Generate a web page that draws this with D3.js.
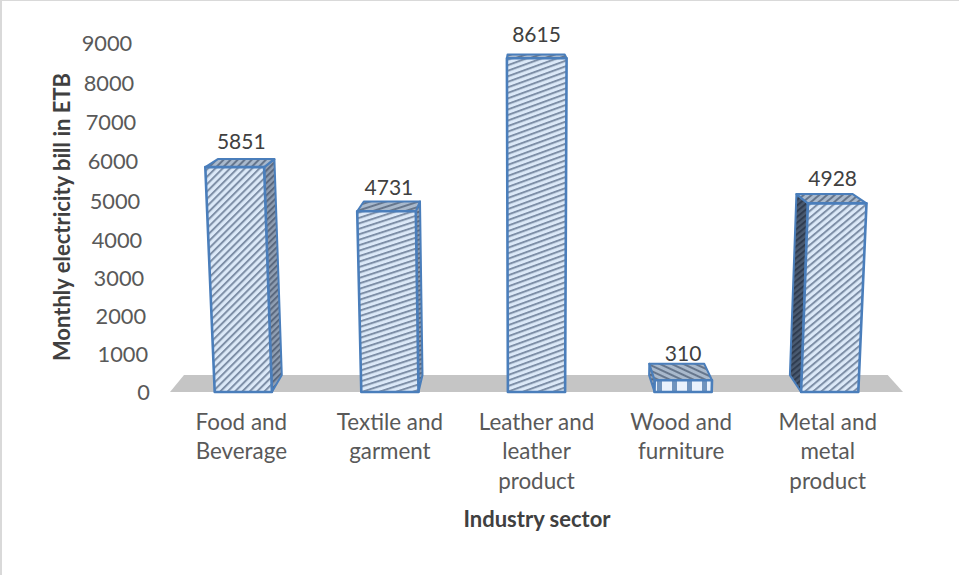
<!DOCTYPE html>
<html>
<head>
<meta charset="utf-8">
<style>
  html, body { margin: 0; padding: 0; background: #fff; }
  svg { display: block; font-family: Lato, "Open Sans", sans-serif; }
</style>
<script src="https://cdn.jsdelivr.net/npm/d3@7/dist/d3.min.js"></script>
</head>
<body>
<svg id="chart" width="959" height="575"></svg>
<script>
// Monthly electricity bill per industry sector
const categories = ["Food and Beverage", "Textile and garment", "Leather and leather product", "Wood and furniture", "Metal and metal product"];
const categoryLines = [["Food and", "Beverage"], ["Textile and", "garment"], ["Leather and", "leather", "product"], ["Wood and", "furniture"], ["Metal and", "metal", "product"]];
const bills = [5851, 4731, 8615, 310, 4928];
const tickValues = [0, 1000, 2000, 3000, 4000, 5000, 6000, 7000, 8000, 9000];

// Hatch direction per bar, and small nudges for the value and category labels
const hatchAngles = [-45, -18, -20, 0, -40];
const labelLift = [17, 14, 20, 10, 15];
const labelShift = [-2, -1, 0, 0, 3];
const categoryShift = [-2, 0, 0, -2, -2];

const W = 959, H = 575;
const svg = d3.select("#chart");

// The bar chart is drawn in perspective: the value scale stretches slightly with
// height, columns fan outward as they rise, and depth runs toward a vanishing point.
const x = d3.scaleBand().domain(categories).range([170, 903]).padding(0);
const y = d3.scaleLinear().domain([0, 4000, 9000]).range([392, 240, 43]);
const barShare = 0.39;
const vanish = { x: 520, y: -31 }, depth = 0.04;
const fanCentre = 530, fanDistance = 7500;

const fan = (x0, v) => fanCentre + (x0 - fanCentre) * (1 + (y(0) - y(v)) / fanDistance);
const toBack = p => [p[0] + depth * (vanish.x - p[0]), p[1] + depth * (vanish.y - p[1])];
const poly = pts => pts.map(p => p.map(n => n.toFixed(1)).join(",")).join(" ");

const frontFill = "#dce9f8", frontInk = "#7d8ea6";
const defs = svg.append("defs");

function hatch(id, angle, bg, ink, gap, thick) {
  const p = defs.append("pattern")
    .attr("id", id).attr("patternUnits", "userSpaceOnUse")
    .attr("width", gap).attr("height", gap)
    .attr("patternTransform", `rotate(${angle})`);
  p.append("rect").attr("width", gap).attr("height", gap).attr("fill", bg);
  p.append("rect").attr("width", gap).attr("height", thick).attr("fill", ink);
}

bills.forEach((_, i) => {
  if (i !== 3) hatch(`front${i}`, hatchAngles[i], frontFill, frontInk, 5.2, 2);
  hatch(`top${i}`, i === 3 ? 25 : hatchAngles[i], "#a9b9cc", "#66768c", 5, 2);
  hatch(`side${i}`, hatchAngles[i], i === 4 ? "#4a5a70" : "#8f9eb2", i === 4 ? "#2f3c50" : "#5a687e", 4.4, 2);
});

// The wood bar is so short that its hatch reads as a row of dark ticks
const wood = defs.append("pattern")
  .attr("id", "front3").attr("patternUnits", "userSpaceOnUse")
  .attr("x", 657).attr("width", 15).attr("height", 12);
wood.append("rect").attr("width", 15).attr("height", 12).attr("fill", "#eaf2fc");
wood.append("rect").attr("x", 0).attr("width", 5).attr("height", 12).attr("fill", "#6f93bd");

// Floor of the plot
const floorFront = [[x.range()[0], y(0)], [x.range()[1], y(0)]];
svg.append("polygon")
  .attr("points", poly([floorFront[0], floorFront[1], toBack(floorFront[1]), toBack(floorFront[0])]))
  .attr("fill", "#c5c5c5");

// Bars
const bars = svg.append("g").selectAll("g")
  .data(categories.map((name, i) => ({ name, value: bills[i], i })))
  .join("g")
  .each(function (d) {
    const g = d3.select(this);
    const mid = x(d.name) + x.bandwidth() / 2;
    const half = x.bandwidth() * barShare / 2;
    const bl = [mid - half, y(0)], br = [mid + half, y(0)];
    const tl = [fan(mid - half, d.value), y(d.value)], tr = [fan(mid + half, d.value), y(d.value)];
    const faces = [];
    if (br[0] < vanish.x) faces.push(["side", [br, tr, toBack(tr), toBack(br)]]);
    if (bl[0] > vanish.x) faces.push(["side", [bl, tl, toBack(tl), toBack(bl)]]);
    faces.push(["top", [tl, tr, toBack(tr), toBack(tl)]]);
    faces.push(["front", [bl, br, tr, tl]]);
    faces.forEach(([kind, pts]) => {
      g.append("polygon")
        .attr("points", poly(pts))
        .attr("fill", `url(#${kind}${d.i})`)
        .attr("stroke", "#4a7ebb")
        .attr("stroke-width", kind === "front" ? 2.6 : 2)
        .attr("stroke-linejoin", "round");
    });
    g.append("text")
      .attr("x", mid + labelShift[d.i])
      .attr("y", toBack(tl)[1] - labelLift[d.i])
      .attr("dy", "0.35em")
      .attr("text-anchor", "middle")
      .attr("font-size", 21)
      .attr("fill", "#404040")
      .text(d.value);
  });

// Value axis: tick labels follow the fanned left wall
const axis = svg.append("g")
  .call(d3.axisLeft(y).tickValues(tickValues).tickSize(0).tickFormat(d3.format("d")));
axis.select(".domain").remove();
axis.selectAll(".tick text")
  .attr("x", d => fan(148, d) + 2)
  .attr("dy", "0.35em")
  .attr("font-size", 21.8)
  .attr("fill", "#595959");
axis.attr("font-family", null).attr("font-size", null);

// Category labels
categories.forEach((name, i) => {
  const t = svg.append("text")
    .attr("text-anchor", "middle")
    .attr("font-size", 22.4)
    .attr("fill", "#595959");
  categoryLines[i].forEach((line, k) => {
    t.append("tspan")
      .attr("x", x(name) + x.bandwidth() / 2 + categoryShift[i])
      .attr("y", 422 + k * 29.5)
      .attr("dy", "0.35em")
      .text(line);
  });
});

// Axis titles
svg.append("text")
  .attr("x", 537).attr("y", 519).attr("dy", "0.35em")
  .attr("text-anchor", "middle").attr("font-size", 22).attr("font-weight", 700)
  .attr("fill", "#404040").text("Industry sector");
svg.append("text")
  .attr("transform", "translate(62,217) rotate(-90)").attr("dy", "0.35em")
  .attr("text-anchor", "middle").attr("font-size", 22).attr("font-weight", 700)
  .attr("fill", "#404040").text("Monthly electricity bill in ETB");

// Page edge lines
svg.append("rect").attr("x", 0).attr("y", 0).attr("width", 2).attr("height", H).attr("fill", "#d9d9d9");
svg.append("rect").attr("x", 0).attr("y", 0).attr("width", W).attr("height", 1).attr("fill", "#d9d9d9");
</script>
</body>
</html>
